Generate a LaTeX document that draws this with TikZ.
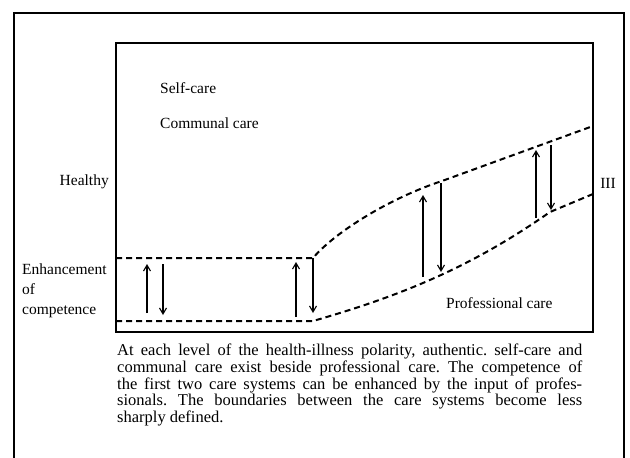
\documentclass[tikz,border=0pt]{standalone}
\usepackage{fontspec}
\setmainfont{Liberation Serif}
\usetikzlibrary{arrows.meta}
\frenchspacing

\begin{document}
\begin{tikzpicture}[x=1pt, y=-1pt,
  frame/.style={line width=1.2pt},
  panel/.style={line width=1.8pt},
  boundary/.style={line width=2pt, dash pattern=on 6pt off 4pt},
  input/.style={-{Straight Barb[length=6pt,width=7pt]}, line width=1.1pt},
  label/.style={inner sep=0pt, font=\fontsize{15.5}{20}\selectfont},
  caption/.style={inner sep=0pt, text width=465pt, align=justify,
    font=\fontsize{16.5}{16.75}\selectfont},
]
\useasboundingbox (0,0) rectangle (630,458);

% frames
\draw[frame] (14,458) -- (14,13) -- (624,13) -- (624,458);
\draw[panel] (116,43) rectangle (593,332);

% labels
\node[label, anchor=west] (selfcare) at (160,88) {Self-care};
\node[label, anchor=west] (communal) at (160,123) {Communal care};
\node[label, anchor=east] (healthy) at (109,182) {Healthy};
\node[label] (ill) at (608,183) {III};
\node[label, anchor=west, align=left] (enhance) at (22,291) {Enhancement\\of\\competence};
\node[label, anchor=west] (professional) at (446,303) {Professional care};

% boundaries between the care systems
\draw[boundary] (116,258) -- (313,258) .. controls (335,232) and (390,198) .. (442,181) -- (593,126);
\draw[boundary] (116,321) -- (313,321) .. controls (400,296) and (470,268) .. (550,212) -- (593,194);

% input of professionals
\coordinate (up1a) at (147,313); \coordinate (up1b) at (147,264);
\coordinate (dn1a) at (163,264); \coordinate (dn1b) at (163,315);
\coordinate (up2a) at (296,317); \coordinate (up2b) at (296,262);
\coordinate (dn2a) at (313,258); \coordinate (dn2b) at (313,313);
\coordinate (up3a) at (423,277); \coordinate (up3b) at (423,195);
\coordinate (dn3a) at (441,183); \coordinate (dn3b) at (441,272);
\coordinate (up4a) at (536,218); \coordinate (up4b) at (536,150);
\coordinate (dn4a) at (551,145); \coordinate (dn4b) at (551,210);

\foreach \i in {1,...,4} {
  \draw[input] (up\i a) -- (up\i b);
  \draw[input] (dn\i a) -- (dn\i b);
}

% caption
\node[caption, anchor=west] (note) at (117,385) {At each level of the health-illness polarity, authentic. self-care and\linebreak
communal care exist beside professional care. The competence of\linebreak
the first two care systems can be enhanced by the input of profes-\linebreak
sionals. The boundaries between the care systems become less\linebreak
sharply defined.};
\end{tikzpicture}
\end{document}
